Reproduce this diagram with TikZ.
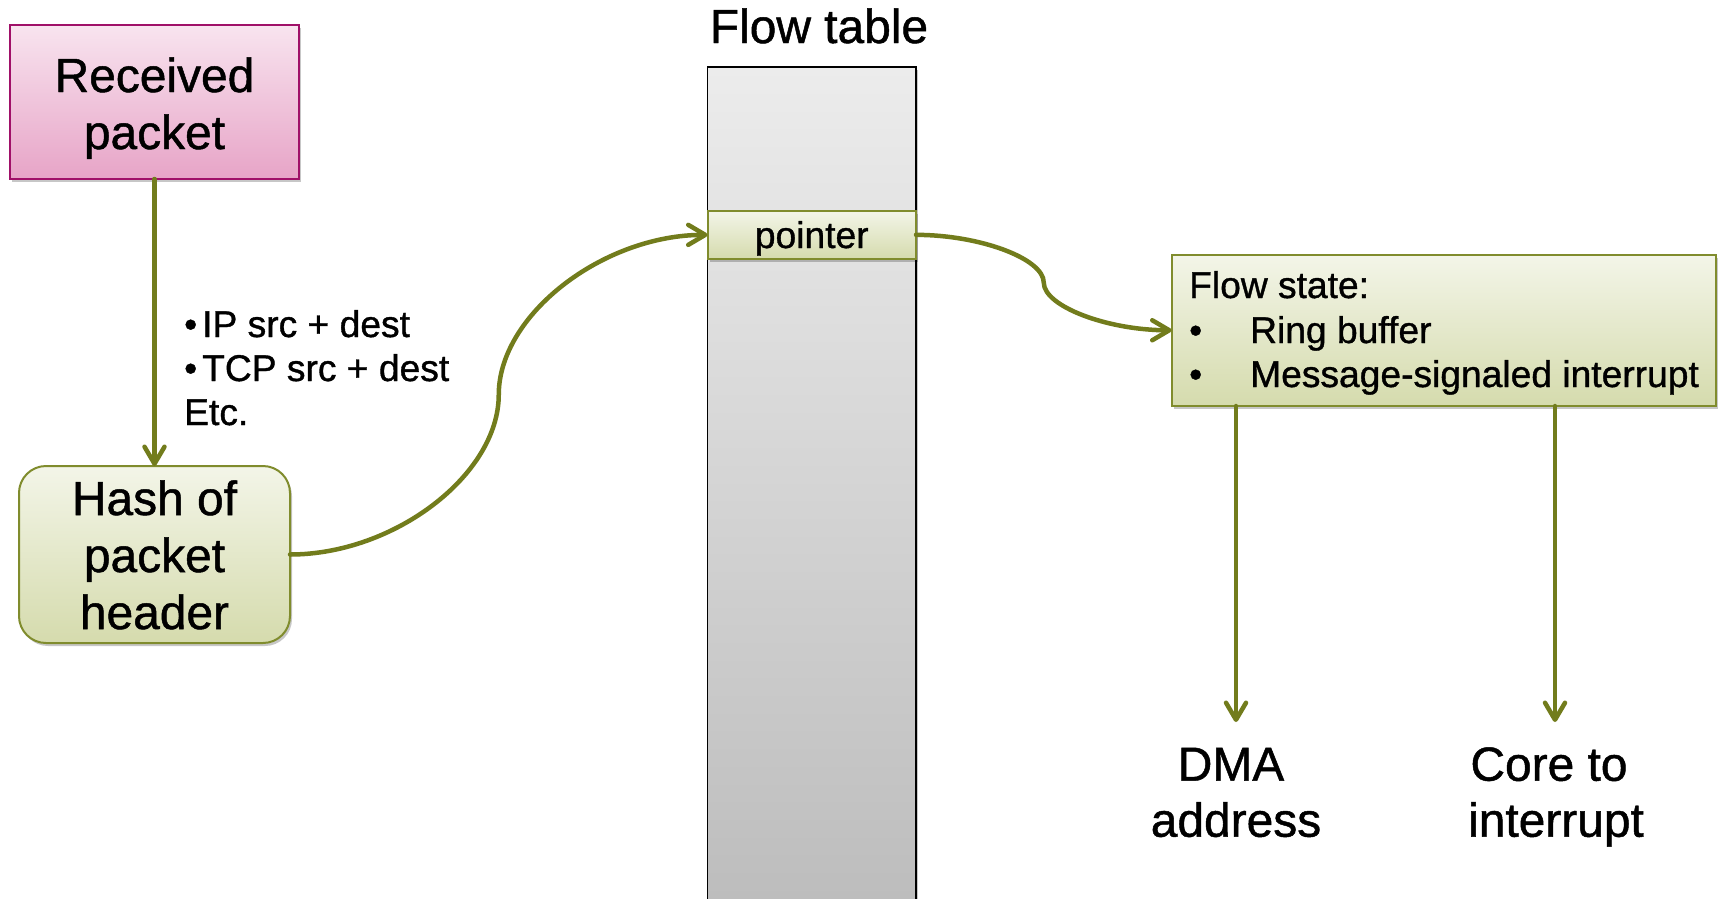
\documentclass[tikz,border=0pt]{standalone}
\usepackage{fontspec}
\setmainfont{Liberation Sans}
\newfontfamily\txtfont{Liberation Sans}[FakeBold=1.0]
\usetikzlibrary{arrows.meta,shadows}
\definecolor{olivearr}{RGB}{114,124,28}
\definecolor{olivebd}{RGB}{128,140,45}
\definecolor{greentop}{RGB}{243,245,232}
\definecolor{greenbot}{RGB}{213,219,173}
\definecolor{pinktop}{RGB}{248,228,239}
\definecolor{pinkbot}{RGB}{231,164,199}
\definecolor{pinkbd}{RGB}{160,16,104}
\definecolor{graytop}{RGB}{236,236,236}
\definecolor{graybot}{RGB}{188,188,188}
\tikzset{
  big/.style={font=\txtfont\fontsize{47.9}{57}\selectfont, inner sep=0pt, anchor=base},
  mid/.style={font=\txtfont\fontsize{37.2}{44}\selectfont, inner sep=0pt, anchor=base west},
  shdw/.style={drop shadow={shadow xshift=2pt, shadow yshift=-3pt, opacity=0.22, fill=black}},
  boxbase/.style={inner sep=0pt, outer sep=0pt, line width=2pt},
  pinkbox/.style={boxbase, draw=pinkbd, top color=pinktop, bottom color=pinkbot, shdw},
  greenbox/.style={boxbase, draw=olivebd, top color=greentop, bottom color=greenbot, shdw},
  tablebox/.style={boxbase, draw=black, line width=1.8pt, top color=graytop, bottom color=graybot, shdw},
  arr/.style={draw=olivearr, line width=4.5pt, line cap=round, -{Straight Barb[length=17pt,width=20pt,round]}},
}
\begin{document}
\begin{tikzpicture}[x=1pt,y=-1pt]
\useasboundingbox[fill=white] (0,0) rectangle (1721,898);
% Received packet
\node[pinkbox, minimum width=289pt, minimum height=154pt] (rp) at (154.5,102) {};
\node[big] (rp1) at (154.5,92) {Received};
\node[big] (rp2) at (154.5,149) {packet};
% Hash box
\node[greenbox, rounded corners=27pt, minimum width=271pt, minimum height=177pt] (hash) at (154.5,554.5) {};
\node[big] (h1) at (154.5,515) {Hash of};
\node[big] (h2) at (154.5,572) {packet};
\node[big] (h3) at (154.5,629) {header};
% label
\node[mid] (l1) at (184,337) {\makebox[18pt][l]{•}IP src + dest};
\node[mid] (l2) at (184,381) {\makebox[18pt][l]{•}TCP src + dest};
\node[mid] (l3) at (184,425) {Etc.};
% Flow table
\node[big] (ftt) at (819,43) {Flow table};
\node[tablebox, minimum width=208.5pt, minimum height=850pt] (ft) at (811.75,492) {};
\node[greenbox, minimum width=208.5pt, minimum height=48.3pt] (ptr) at (811.75,234.85) {};
\node[mid, anchor=base] (ptrt) at (811.75,248) {pointer};
% Flow state
\node[greenbox, minimum width=544.5pt, minimum height=151.5pt] (fs) at (1443.75,330.25) {};
\node[mid] (fs1) at (1189,298) {Flow state:};
\node[mid] (fs2) at (1189,343) {\makebox[61pt][l]{•}Ring buffer};
\node[mid] (fs3) at (1189,387) {\makebox[61pt][l]{•}Message-signaled interrupt};
% outputs
\coordinate (dmaend) at (1236,722);
\coordinate (coreend) at (1555,722);
\node[big] (d1) at (1231,780.7) {DMA};
\node[big] (d2) at (1236,836.7) {address};
\node[big] (c1) at (1549,780.7) {Core to};
\node[big] (c2) at (1556,836.7) {interrupt};
% connectors
\draw[arr] (rp.south) -- (hash.north);
\draw[arr] (hash.east) .. controls (394.4,554.5) and (498.75,474.6) .. (498.75,394.7)
                      .. controls (498.75,314.8) and (603.1,234.85) .. (ptr.west);
\draw[arr] (ptr.east) .. controls (979.9,234.85) and (1043.75,258.7) .. (1043.75,282.55)
                      .. controls (1043.75,306.4) and (1107.6,330.25) .. (fs.west);
\draw[arr] (fs.south -| dmaend) -- (dmaend);
\draw[arr] (fs.south -| coreend) -- (coreend);
\end{tikzpicture}
\end{document}
